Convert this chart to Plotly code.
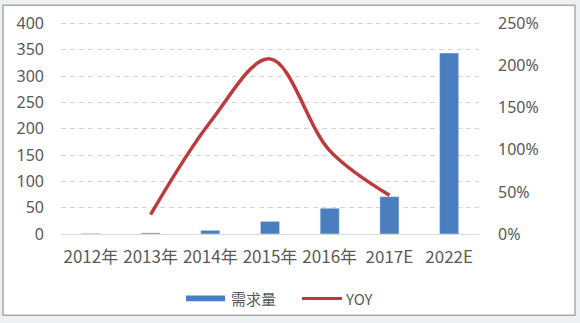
import plotly.graph_objects as go

categories = ["2012年", "2013年", "2014年", "2015年", "2016年", "2017E", "2022E"]
demand = [1, 2, 7, 24, 49, 71, 344]
yoy_categories = ["2013年", "2014年", "2015年", "2016年", "2017E"]
yoy = [23, 133, 208, 99, 46]
left_ticks = [0, 50, 100, 150, 200, 250, 300, 350, 400]
right_ticks = [0, 50, 100, 150, 200, 250]
right_tick_labels = ["0%", "50%", "100%", "150%", "200%", "250%"]

W, H = 580, 323
L, R, T, B = 61, 101, 21, 89
pw, ph = W - L - R, H - T - B

def px(x):
    return (x - L) / pw

def py(y):
    return (H - B - y) / ph

font_color = "#595959"
bar_color = "#4A7EBF"
line_color = "#BE3B3B"
grid_color = "#d4d4d4"

fig = go.Figure()
fig.add_trace(go.Bar(x=categories, y=demand, name="需求量", marker_color=bar_color,
                     width=0.32, yaxis="y", showlegend=False))
fig.add_trace(go.Scatter(x=yoy_categories, y=yoy, name="YOY", mode="lines",
                         line=dict(color=line_color, width=3.5, shape="spline", smoothing=1.0),
                         yaxis="y2", showlegend=False))

fig.update_layout(
    width=W, height=H,
    margin=dict(l=L, r=R, t=T, b=B),
    paper_bgcolor="#eef1f4", plot_bgcolor="white",
    font=dict(family="Noto Sans, Noto Sans CJK SC", size=16, color=font_color),
    showlegend=False,
    xaxis=dict(type="category", categoryorder="array", categoryarray=categories,
               showgrid=False, showline=True, linecolor="#d9d9d9", linewidth=1,
               ticks="", tickfont=dict(size=17, family="Noto Sans CJK SC"),
               ticklabelstandoff=8),
    yaxis=dict(range=[0, 401], tickvals=left_ticks,
               showgrid=True, gridcolor=grid_color,
               griddash="5px,4px", zeroline=False, ticks="", tickfont=dict(size=16),
               ticklabelstandoff=16),
    yaxis2=dict(range=[0, 250.6], tickvals=right_ticks, ticktext=right_tick_labels,
                overlaying="y", side="right", showgrid=False,
                zeroline=False, tickfont=dict(size=16), ticklabelstandoff=18),
    shapes=[
        dict(type="rect", xref="paper", yref="paper",
             x0=px(3), x1=px(575), y0=py(316), y1=py(3),
             line=dict(color="#a9a9a9", width=1.5), fillcolor="white", layer="below"),
        dict(type="line", xref="paper", yref="y", x0=0, x1=1, y0=left_ticks[-1], y1=left_ticks[-1],
             line=dict(color=grid_color, width=1, dash="5px,4px"), layer="below"),
        dict(type="rect", xref="paper", yref="paper",
             x0=px(186), x1=px(225), y0=py(302), y1=py(296),
             line=dict(width=0), fillcolor=bar_color),
        dict(type="line", xref="paper", yref="paper",
             x0=px(302), x1=px(342), y0=py(299), y1=py(299),
             line=dict(color=line_color, width=3)),
    ],
    annotations=[
        dict(xref="paper", yref="paper", x=px(229), y=py(299), xanchor="left", yanchor="middle",
             text="需求量", showarrow=False,
             font=dict(size=15, family="Noto Sans CJK SC", color=font_color)),
        dict(xref="paper", yref="paper", x=px(343), y=py(299), xanchor="left", yanchor="middle",
             text="YOY", showarrow=False,
             font=dict(size=15, family="Noto Sans CJK SC", color=font_color)),
    ],
)
fig.write_html("out.html")
